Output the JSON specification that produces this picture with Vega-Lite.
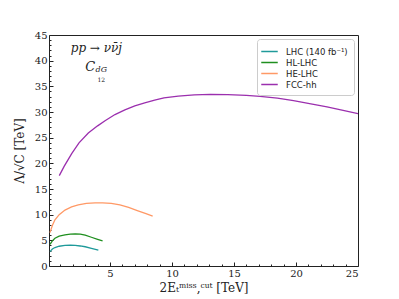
{
  "$schema": "https://vega.github.io/schema/vega-lite/v6.json",
  "width": 309,
  "height": 231,
  "autosize": "none",
  "padding": {"left": 49, "top": 35, "right": 41, "bottom": 33},
  "background": "white",
  "config": {
    "view": {"stroke": "#222", "strokeWidth": 1},
    "axis": {"labelFont": "DejaVu Serif", "labelFontSize": 10, "labelColor": "#222", "titleFont": "DejaVu Serif", "titleFontWeight": "normal", "titleFontSize": 12, "titleColor": "#222", "grid": false, "domain": false, "tickColor": "#222", "ticks": true, "labelOverlap": false, "labelBound": false},
    "legend": {"labelFont": "DejaVu Sans", "labelFontSize": 8.5, "labelColor": "#222"}
  },
  "datasets": {
    "curves": [
      {"s": "FCC-hh", "x": 0.91, "y": 17.6}, {"s": "FCC-hh", "x": 1.3, "y": 19.4}, {"s": "FCC-hh", "x": 1.91, "y": 21.9}, {"s": "FCC-hh", "x": 2.5, "y": 24.0}, {"s": "FCC-hh", "x": 3.25, "y": 25.9}, {"s": "FCC-hh", "x": 4.0, "y": 27.3}, {"s": "FCC-hh", "x": 4.6, "y": 28.3}, {"s": "FCC-hh", "x": 5.4, "y": 29.5}, {"s": "FCC-hh", "x": 6.2, "y": 30.4}, {"s": "FCC-hh", "x": 7.0, "y": 31.2}, {"s": "FCC-hh", "x": 7.8, "y": 31.8}, {"s": "FCC-hh", "x": 8.6, "y": 32.3}, {"s": "FCC-hh", "x": 9.35, "y": 32.75}, {"s": "FCC-hh", "x": 10.5, "y": 33.1}, {"s": "FCC-hh", "x": 11.8, "y": 33.35}, {"s": "FCC-hh", "x": 13.1, "y": 33.45}, {"s": "FCC-hh", "x": 14.5, "y": 33.4}, {"s": "FCC-hh", "x": 16.0, "y": 33.25}, {"s": "FCC-hh", "x": 17.1, "y": 33.05}, {"s": "FCC-hh", "x": 18.5, "y": 32.7}, {"s": "FCC-hh", "x": 19.8, "y": 32.2}, {"s": "FCC-hh", "x": 21.2, "y": 31.6}, {"s": "FCC-hh", "x": 22.5, "y": 31.0}, {"s": "FCC-hh", "x": 23.8, "y": 30.3}, {"s": "FCC-hh", "x": 25.0, "y": 29.7},
      {"s": "HE-LHC", "x": 0.16, "y": 6.5}, {"s": "HE-LHC", "x": 0.35, "y": 7.9}, {"s": "HE-LHC", "x": 0.56, "y": 9.0}, {"s": "HE-LHC", "x": 0.9, "y": 10.0}, {"s": "HE-LHC", "x": 1.37, "y": 10.9}, {"s": "HE-LHC", "x": 1.9, "y": 11.5}, {"s": "HE-LHC", "x": 2.44, "y": 11.9}, {"s": "HE-LHC", "x": 3.1, "y": 12.2}, {"s": "HE-LHC", "x": 3.8, "y": 12.3}, {"s": "HE-LHC", "x": 4.4, "y": 12.3}, {"s": "HE-LHC", "x": 5.1, "y": 12.2}, {"s": "HE-LHC", "x": 5.8, "y": 11.9}, {"s": "HE-LHC", "x": 6.5, "y": 11.4}, {"s": "HE-LHC", "x": 7.2, "y": 10.8}, {"s": "HE-LHC", "x": 7.9, "y": 10.2}, {"s": "HE-LHC", "x": 8.44, "y": 9.7},
      {"s": "HL-LHC", "x": 0.16, "y": 4.2}, {"s": "HL-LHC", "x": 0.35, "y": 4.9}, {"s": "HL-LHC", "x": 0.56, "y": 5.4}, {"s": "HL-LHC", "x": 0.9, "y": 5.8}, {"s": "HL-LHC", "x": 1.37, "y": 6.05}, {"s": "HL-LHC", "x": 1.8, "y": 6.2}, {"s": "HL-LHC", "x": 2.2, "y": 6.25}, {"s": "HL-LHC", "x": 2.6, "y": 6.2}, {"s": "HL-LHC", "x": 3.0, "y": 6.0}, {"s": "HL-LHC", "x": 3.5, "y": 5.6}, {"s": "HL-LHC", "x": 4.0, "y": 5.2}, {"s": "HL-LHC", "x": 4.4, "y": 4.9},
      {"s": "LHC (140 fb⁻¹)", "x": 0.16, "y": 2.8}, {"s": "LHC (140 fb⁻¹)", "x": 0.35, "y": 3.3}, {"s": "LHC (140 fb⁻¹)", "x": 0.56, "y": 3.6}, {"s": "LHC (140 fb⁻¹)", "x": 0.9, "y": 3.85}, {"s": "LHC (140 fb⁻¹)", "x": 1.37, "y": 4.0}, {"s": "LHC (140 fb⁻¹)", "x": 1.8, "y": 4.05}, {"s": "LHC (140 fb⁻¹)", "x": 2.2, "y": 4.0}, {"s": "LHC (140 fb⁻¹)", "x": 2.6, "y": 3.9}, {"s": "LHC (140 fb⁻¹)", "x": 3.0, "y": 3.75}, {"s": "LHC (140 fb⁻¹)", "x": 3.5, "y": 3.45}, {"s": "LHC (140 fb⁻¹)", "x": 4.06, "y": 3.1}
    ]
  },
  "encoding": {
    "x": {"field": "x", "type": "quantitative", "scale": {"domain": [0.08, 25], "nice": false, "zero": false},
          "axis": {"orient": "bottom", "values": [1,2,3,4,5,6,7,8,9,10,11,12,13,14,15,16,17,18,19,20,21,22,23,24,25],
                   "labelExpr": "datum.value % 5 === 0 ? datum.label : ''",
                   "tickSize": -4,
                   "tickDash": {"condition": {"test": "datum.value % 5 === 0", "value": [4, 0]}, "value": [2, 10]},
                   "labelPadding": 6, "title": "2Eₜᵐⁱˢˢ,ᶜᵘᵗ [TeV]", "titlePadding": 4}},
    "y": {"field": "y", "type": "quantitative", "scale": {"domain": [0, 45], "nice": false},
          "axis": {"orient": "left", "values": [0,1,2,3,4,5,6,7,8,9,10,11,12,13,14,15,16,17,18,19,20,21,22,23,24,25,26,27,28,29,30,31,32,33,34,35,36,37,38,39,40,41,42,43,44,45],
                   "labelExpr": "datum.value % 5 === 0 ? datum.label : ''",
                   "tickSize": -4,
                   "tickDash": {"condition": {"test": "datum.value % 5 === 0", "value": [4, 0]}, "value": [2, 10]},
                   "labelPadding": 6, "title": "Λ/√C [TeV]", "titlePadding": 8}}
  },
  "layer": [
    {
      "data": {"name": "curves"},
      "mark": {"type": "line", "strokeWidth": 1.3, "clip": true},
      "encoding": {
        "color": {"field": "s", "type": "nominal",
                  "scale": {"domain": ["LHC (140 fb⁻¹)", "HL-LHC", "HE-LHC", "FCC-hh"], "range": ["#1f9a9a", "#1f8f1f", "#ff9966", "#9b2fae"]},
                  "legend": {"title": null, "orient": "top-right", "offset": 4, "symbolType": "M-1.5,0H1.5", "symbolSize": 121, "symbolStrokeWidth": 1.5, "labelOffset": 10, "rowPadding": 0, "padding": 6, "strokeColor": "#ccc", "fillColor": "white", "cornerRadius": 3}}
      }
    },
    {
      "data": {"values": [{"x": 3.9, "y": 42.4, "t": "pp → νν̄j"}]},
      "mark": {"type": "text", "font": "DejaVu Serif", "fontStyle": "italic", "fontSize": 12, "color": "#222"},
      "encoding": {"text": {"field": "t"}}
    },
    {
      "data": {"values": [{"x": 3.4, "y": 38.7, "t": "C"}]},
      "mark": {"type": "text", "font": "DejaVu Serif", "fontStyle": "italic", "fontSize": 13, "color": "#222"},
      "encoding": {"text": {"field": "t"}}
    },
    {
      "data": {"values": [{"x": 4.3, "y": 38.1, "t": "dG"}]},
      "mark": {"type": "text", "font": "DejaVu Serif", "fontStyle": "italic", "fontSize": 8, "color": "#222"},
      "encoding": {"text": {"field": "t"}}
    },
    {
      "data": {"values": [{"x": 4.3, "y": 36.3, "t": "12"}]},
      "mark": {"type": "text", "font": "DejaVu Serif", "fontSize": 6, "color": "#222"},
      "encoding": {"text": {"field": "t"}}
    }
  ]
}
